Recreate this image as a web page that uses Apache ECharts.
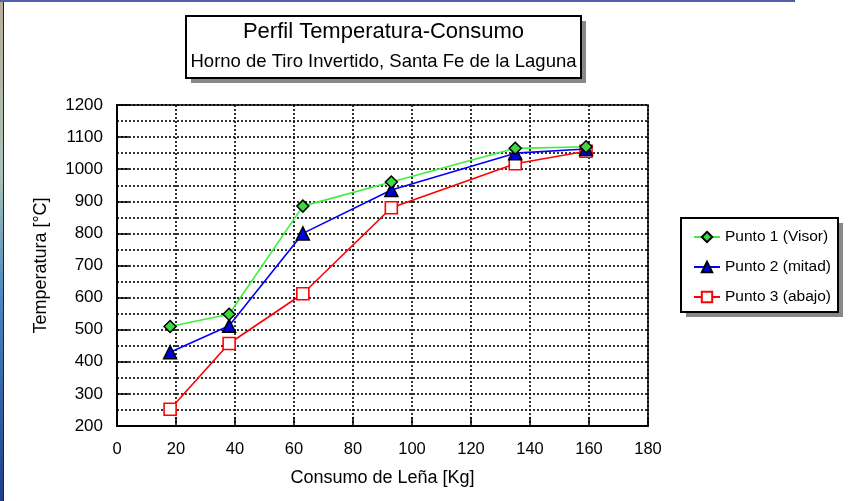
<!DOCTYPE html>
<html>
<head>
<meta charset="utf-8">
<script src="https://cdn.jsdelivr.net/npm/echarts@6/dist/echarts.min.js"></script>
<style>html,body{margin:0;padding:0;background:#fff}#c{width:859px;height:501px}</style>
</head>
<body>
<div id="c"></div>
<script>
var consumo1 = [18, 38, 63, 93, 135, 159];
var punto1 = [510, 548, 885, 960, 1065, 1070];
var consumo2 = [18, 38, 63, 93, 135, 159];
var punto2 = [430, 512, 800, 935, 1050, 1063];
var consumo3 = [18, 38, 63, 93, 135, 159];
var punto3 = [252, 457, 612, 880, 1017, 1056];
var seriesNames = ['Punto 1 (Visor)', 'Punto 2 (mitad)', 'Punto 3 (abajo)'];
var titleText = 'Perfil Temperatura-Consumo';
var subtitleText = 'Horno de Tiro Invertido, Santa Fe de la Laguna';
var xName = 'Consumo de Leña [Kg]';
var yName = 'Temperatura [°C]';

function pairs(xs, ys) { return xs.map(function (x, i) { return [x, ys[i]]; }); }

var FONT = '"Liberation Sans", Arial, sans-serif';
var chart = echarts.init(document.getElementById('c'), null, { renderer: 'canvas' });
var dotted = { color: '#000', width: 1.6, type: [2, 2] };

chart.setOption({
  animation: false,
  backgroundColor: '#fff',
  textStyle: { fontFamily: FONT },
  grid: { left: 117, top: 105, right: 211, bottom: 75, show: true, borderColor: '#000', borderWidth: 1.5, backgroundColor: 'transparent' },
  xAxis: {
    type: 'value', min: 0, max: 180, interval: 20,
    name: xName, nameLocation: 'middle', nameGap: 43,
    nameTextStyle: { fontFamily: FONT, fontSize: 18, color: '#000' },
    axisLine: { lineStyle: { color: '#000', width: 2 } },
    axisTick: { inside: true, length: 9, lineStyle: { color: '#000', width: 1.5 } },
    axisLabel: { fontFamily: FONT, fontSize: 16.5, color: '#000', margin: 15 },
    splitLine: { show: true, lineStyle: dotted }
  },
  yAxis: {
    type: 'value', min: 200, max: 1200, interval: 100,
    name: yName, nameLocation: 'middle', nameGap: 67,
    nameTextStyle: { fontFamily: FONT, fontSize: 18, color: '#000' },
    axisLine: { lineStyle: { color: '#000', width: 2 } },
    axisTick: { inside: true, length: 12, lineStyle: { color: '#000', width: 1.5 } },
    axisLabel: { fontFamily: FONT, fontSize: 17, color: '#000', margin: 14, formatter: function (v) { return String(v); } },
    splitLine: { show: true, lineStyle: dotted },
    minorTick: { show: false, splitNumber: 2 },
    minorSplitLine: { show: true, lineStyle: dotted }
  },
  legend: {
    orient: 'vertical', left: 688, top: 224,
    itemWidth: 26, itemHeight: 13, itemGap: 14,
    textStyle: { fontFamily: FONT, fontSize: 15.5, color: '#000' },
    data: seriesNames
  },
  graphic: [
    { type: 'rect', shape: { x: 0, y: 0, width: 3, height: 501 }, z: 100,
      style: { fill: new echarts.graphic.LinearGradient(0, 0, 0, 1, [
        { offset: 0, color: '#b9ad9a' }, { offset: 0.35, color: '#a9c3b8' },
        { offset: 0.6, color: '#4a86c0' }, { offset: 1, color: '#1f3f8a' }]) } },
    { type: 'rect', shape: { x: 3, y: 0, width: 1, height: 501 }, z: 100, style: { fill: '#222' } },
    { type: 'rect', shape: { x: 0, y: 0, width: 795, height: 2 }, z: 100, style: { fill: '#5060a8' } },
    { type: 'rect', shape: { x: 191, y: 21, width: 395, height: 62 }, z: 0, style: { fill: '#888' } },
    { type: 'rect', shape: { x: 186, y: 16, width: 395, height: 62 }, z: 1, style: { fill: '#fff', stroke: '#000', lineWidth: 2 } },
    { type: 'text', x: 383.5, y: 32, z: 2, style: { text: titleText, fontFamily: FONT, fontSize: 22, fill: '#000', align: 'center', verticalAlign: 'middle' } },
    { type: 'text', x: 383.5, y: 62, z: 2, style: { text: subtitleText, fontFamily: FONT, fontSize: 18.5, fill: '#000', align: 'center', verticalAlign: 'middle' } },
    { type: 'rect', shape: { x: 686, y: 223, width: 157, height: 94 }, z: 0, style: { fill: '#888' } },
    { type: 'rect', shape: { x: 681, y: 218, width: 157, height: 94 }, z: 1, style: { fill: '#fff', stroke: '#000', lineWidth: 2 } }
  ],
  series: [
    { name: seriesNames[0], type: 'line', data: pairs(consumo1, punto1), z: 5,
      lineStyle: { color: '#3cf03c', width: 1.6 }, itemStyle: { color: '#40d840', borderColor: '#000', borderWidth: 1.5 },
      symbol: 'diamond', symbolSize: 12 },
    { name: seriesNames[1], type: 'line', data: pairs(consumo2, punto2), z: 4,
      lineStyle: { color: '#0000ff', width: 1.6 }, itemStyle: { color: '#0000dd', borderColor: '#000', borderWidth: 1.5 },
      symbol: 'triangle', symbolSize: 13 },
    { name: seriesNames[2], type: 'line', data: pairs(consumo3, punto3), z: 3,
      lineStyle: { color: '#ff0000', width: 1.6 }, itemStyle: { color: '#fff', borderColor: '#ff0000', borderWidth: 1.6 },
      symbol: 'rect', symbolSize: 12 }
  ]
});
</script>
</body>
</html>
